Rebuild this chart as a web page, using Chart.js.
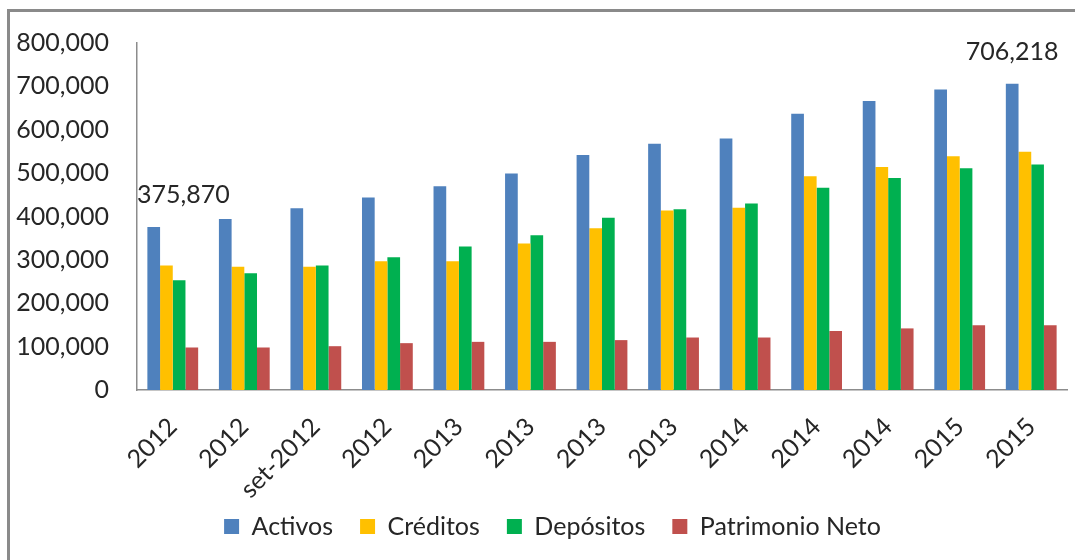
<!DOCTYPE html>
<html>
<head>
<meta charset="utf-8">
<script src="https://cdn.jsdelivr.net/npm/chart.js@4.4.1/dist/chart.umd.min.js"></script>
<style>
  html, body { margin: 0; padding: 0; background: #ffffff; }
  #wrap { position: relative; width: 1075px; height: 560px; overflow: hidden; background: #fff; }
  #frame { position: absolute; left: 7px; top: 9px; width: 1200px; height: 700px;
           border-left: 3px solid #8a8a8a; border-top: 3px solid #8a8a8a; }
  canvas { position: absolute; left: 0; top: 0; }
</style>
</head>
<body>
<div id="wrap">
  <div id="frame"></div>
  <canvas id="c" width="1075" height="560"></canvas>
</div>
<script>
const categories = ["2012", "2012", "set-2012", "2012", "2013", "2013", "2013", "2013", "2014", "2014", "2014", "2015", "2015"];
const activos    = [375870, 394000, 419000, 444000, 470000, 499000, 542000, 568000, 580000, 637000, 666000, 693000, 706218];
const creditos   = [287000, 284000, 284000, 297000, 297000, 338000, 373000, 414000, 420000, 493000, 514000, 539000, 549000];
const depositos  = [253000, 269000, 287000, 306000, 331000, 357000, 397000, 417000, 430000, 466000, 489000, 511000, 520000];
const patrimonio = [98000, 98000, 101000, 108000, 111000, 111000, 115000, 121000, 121000, 136000, 142000, 149000, 149000];
const yTicks = [0, 100000, 200000, 300000, 400000, 500000, 600000, 700000, 800000];
const seriesNames = ["Activos", "Créditos", "Depósitos", "Patrimonio Neto"];
const seriesColors = ["#4F81BD", "#FFC000", "#00B050", "#C0504D"];
const labelledPoints = [0, 12]; // indices of Activos values shown as labels

const FONT = "Lato, 'Open Sans', sans-serif";
const TXT = "#262626";
const fmt = v => v.toLocaleString('en-US');

// category scale whose rotated labels are not clipped to the axis box
class FreeLabelCategory extends Chart.CategoryScale {
  _computeLabelArea() { return undefined; }
}
FreeLabelCategory.id = 'freeCategory';
FreeLabelCategory.defaults = Chart.CategoryScale.defaults;
Chart.register(FreeLabelCategory);

const valueLabels = {
  id: 'valueLabels',
  afterDatasetsDraw(chart) {
    const ctx = chart.ctx;
    const meta = chart.getDatasetMeta(0);
    ctx.save();
    ctx.font = "25px " + FONT;
    ctx.fillStyle = TXT;
    ctx.textAlign = 'center';
    ctx.textBaseline = 'middle';
    labelledPoints.forEach(i => {
      const el = meta.data[i];
      const text = fmt(activos[i]);
      const w = ctx.measureText(text).width;
      const x = Math.max(el.x, chart.chartArea.left + w / 2);
      ctx.fillText(text, x, el.y - 32);
    });
    ctx.restore();
  }
};

const legendShift = {
  id: 'legendShift',
  beforeDraw(chart) { if (chart.legend) { chart.legend.left = 38; } }
};

const seriesData = [activos, creditos, depositos, patrimonio];

new Chart(document.getElementById('c'), {
  type: 'bar',
  data: {
    labels: categories,
    datasets: seriesNames.map((n, k) => ({
      label: n,
      data: seriesData[k],
      backgroundColor: seriesColors[k],
      borderWidth: 0,
      categoryPercentage: 0.71,
      barPercentage: 1.0
    }))
  },
  options: {
    responsive: false,
    animation: false,
    devicePixelRatio: 1,
    layout: { padding: { left: 0, right: 8, top: 42, bottom: 11 } },
    plugins: {
      tooltip: { enabled: false },
      legend: {
        position: 'bottom',
        labels: {
          boxWidth: 15, boxHeight: 15, padding: 27,
          color: TXT,
          font: { family: FONT, size: 25 }
        }
      }
    },
    scales: {
      x: {
        type: 'freeCategory',
        grid: { display: false, drawTicks: false, tickLength: 0 },
        border: { display: true, color: '#8c8c8c', width: 1.5 },
        ticks: {
          autoSkip: false, minRotation: 45, maxRotation: 45, padding: 22,
          color: TXT, font: { family: FONT, size: 25 }
        },
        afterFit(scale) { scale.height = 97; }
      },
      y: {
        min: 0, max: 800000,
        grid: { display: false, drawTicks: false, tickLength: 0 },
        border: { display: true, color: '#8c8c8c', width: 1.5 },
        afterBuildTicks(scale) { scale.ticks = yTicks.map(v => ({ value: v })); },
        ticks: {
          padding: 28, color: TXT, font: { family: FONT, size: 25 },
          callback: v => fmt(v)
        },
        afterFit(scale) { scale.width = 137; }
      }
    }
  },
  plugins: [valueLabels, legendShift]
});
</script>
</body>
</html>
